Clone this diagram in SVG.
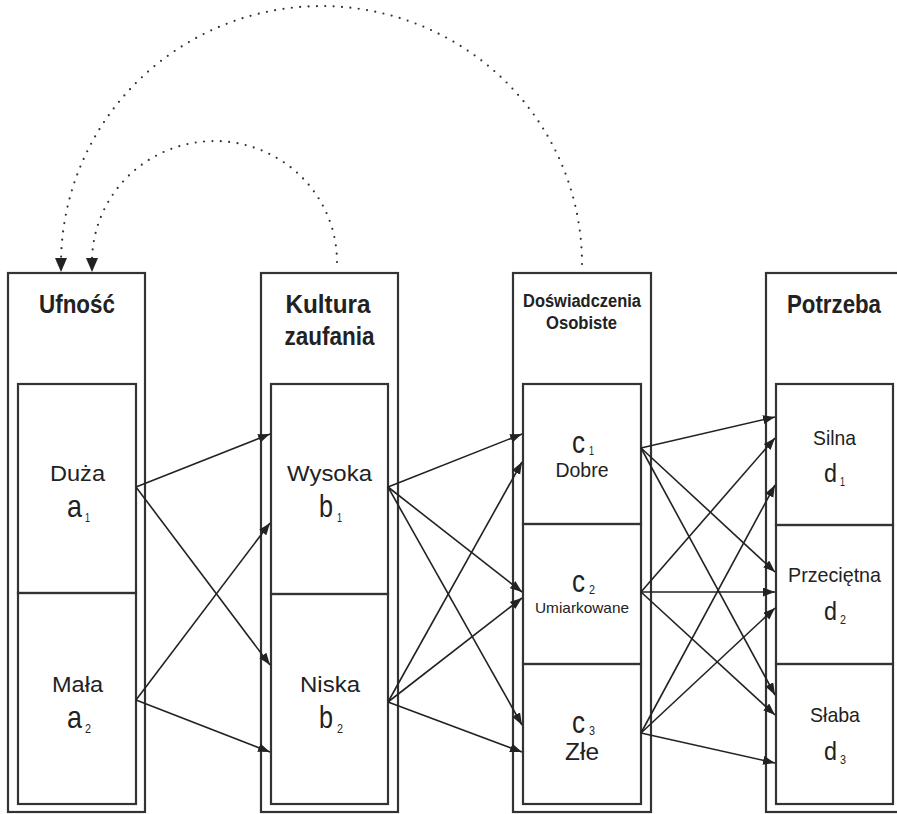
<svg xmlns="http://www.w3.org/2000/svg" width="897" height="814" viewBox="0 0 897 814">
<defs>
<marker id="ah" markerUnits="userSpaceOnUse" markerWidth="14" markerHeight="10" refX="12" refY="4.5" orient="auto">
<path d="M0,0 L12,4.5 L0,9 Z" fill="#222"/>
</marker>
<marker id="dh" markerUnits="userSpaceOnUse" markerWidth="15" markerHeight="13" refX="14" refY="6" orient="auto">
<path d="M0,0 L14,6 L0,12 Z" fill="#222"/>
</marker>
</defs>
<style>
.box{fill:none;stroke:#333;stroke-width:2.2}
.t{font-family:"Liberation Sans",Arial,sans-serif;fill:#222;text-anchor:middle}
.h{font-weight:bold;font-size:25px}
.hs{font-weight:bold;font-size:18px}
.l{font-size:22px}
.v{font-family:"Liberation Sans",Arial,sans-serif;fill:#222;font-size:32px}
.vd{font-family:"Liberation Sans",Arial,sans-serif;fill:#222;font-size:26px}
.s{font-family:"Liberation Sans",Arial,sans-serif;fill:#222;font-size:13px}
.ln{fill:none;stroke:#222;stroke-width:1.6;marker-end:url(#ah)}
.dot{fill:none;stroke:#333;stroke-width:2.2;stroke-linecap:round;stroke-dasharray:0 8.4;marker-end:url(#dh)}
</style>
<rect width="897" height="814" fill="#fff"/>

<g id="ufnosc">
<rect class="box" x="8" y="273" width="137" height="539"/>
<text class="t h" x="77" y="313" textLength="76" lengthAdjust="spacingAndGlyphs">Ufność</text>
<g id="a1">
<rect class="box" x="18" y="384" width="118" height="209"/>
<text class="t l" x="77.5" y="481" textLength="55" lengthAdjust="spacingAndGlyphs">Duża</text>
<text class="v" x="67" y="517" textLength="15" lengthAdjust="spacingAndGlyphs">a</text>
<text class="s" x="85" y="522" textLength="5" lengthAdjust="spacingAndGlyphs">1</text>
</g>
<g id="a2">
<rect class="box" x="18" y="593" width="118" height="211"/>
<text class="t l" x="77.5" y="692" textLength="51" lengthAdjust="spacingAndGlyphs">Mała</text>
<text class="v" x="67" y="728" textLength="15" lengthAdjust="spacingAndGlyphs">a</text>
<text class="s" x="85" y="733" textLength="6" lengthAdjust="spacingAndGlyphs">2</text>
</g>
</g>

<g id="kultura">
<rect class="box" x="261" y="273" width="137" height="539"/>
<text class="t h" x="328" y="313" textLength="85" lengthAdjust="spacingAndGlyphs">Kultura</text>
<text class="t h" x="329.5" y="345" textLength="90" lengthAdjust="spacingAndGlyphs">zaufania</text>
<g id="b1">
<rect class="box" x="271" y="384" width="117" height="210"/>
<text class="t l" x="329.5" y="481" textLength="85" lengthAdjust="spacingAndGlyphs">Wysoka</text>
<text class="v" x="319" y="517" textLength="14" lengthAdjust="spacingAndGlyphs">b</text>
<text class="s" x="337" y="522" textLength="5" lengthAdjust="spacingAndGlyphs">1</text>
</g>
<g id="b2">
<rect class="box" x="271" y="594" width="117" height="210"/>
<text class="t l" x="330" y="692" textLength="60" lengthAdjust="spacingAndGlyphs">Niska</text>
<text class="v" x="319" y="728" textLength="14" lengthAdjust="spacingAndGlyphs">b</text>
<text class="s" x="337" y="733" textLength="6" lengthAdjust="spacingAndGlyphs">2</text>
</g>
</g>

<g id="doswiadczenia">
<rect class="box" x="513" y="273" width="138" height="539"/>
<text class="t hs" x="582" y="307" textLength="118" lengthAdjust="spacingAndGlyphs">Doświadczenia</text>
<text class="t hs" x="581.5" y="329" textLength="71" lengthAdjust="spacingAndGlyphs">Osobiste</text>
<g id="c1">
<rect class="box" x="523" y="384" width="118" height="140"/>
<text class="v" x="572" y="453" textLength="13" lengthAdjust="spacingAndGlyphs">c</text>
<text class="s" x="589" y="455" textLength="5" lengthAdjust="spacingAndGlyphs">1</text>
<text class="t" style="font-size:21px" x="582" y="477" textLength="53" lengthAdjust="spacingAndGlyphs">Dobre</text>
</g>
<g id="c2">
<rect class="box" x="523" y="524" width="118" height="140"/>
<text class="v" x="572" y="592" textLength="13" lengthAdjust="spacingAndGlyphs">c</text>
<text class="s" x="589" y="594" textLength="6" lengthAdjust="spacingAndGlyphs">2</text>
<text class="t" style="font-size:15px" x="582" y="613" textLength="94" lengthAdjust="spacingAndGlyphs">Umiarkowane</text>
</g>
<g id="c3">
<rect class="box" x="523" y="664" width="118" height="140"/>
<text class="v" x="572" y="733" textLength="13" lengthAdjust="spacingAndGlyphs">c</text>
<text class="s" x="589" y="735" textLength="6" lengthAdjust="spacingAndGlyphs">3</text>
<text class="t" style="font-size:23px" x="582" y="760" textLength="34" lengthAdjust="spacingAndGlyphs">Złe</text>
</g>
</g>

<g id="potrzeba">
<rect class="box" x="766" y="273" width="137" height="539"/>
<text class="t h" x="834" y="313" textLength="94" lengthAdjust="spacingAndGlyphs">Potrzeba</text>
<g id="d1">
<rect class="box" x="776" y="384" width="117" height="141"/>
<text class="t" style="font-size:21px" x="834.5" y="445" textLength="43" lengthAdjust="spacingAndGlyphs">Silna</text>
<text class="vd" x="824" y="482" textLength="13" lengthAdjust="spacingAndGlyphs">d</text>
<text class="s" x="840" y="486" textLength="5" lengthAdjust="spacingAndGlyphs">1</text>
</g>
<g id="d2">
<rect class="box" x="776" y="525" width="117" height="139"/>
<text class="t" style="font-size:21px" x="834.5" y="582" textLength="93" lengthAdjust="spacingAndGlyphs">Przeciętna</text>
<text class="vd" x="824" y="620" textLength="13" lengthAdjust="spacingAndGlyphs">d</text>
<text class="s" x="840" y="624" textLength="6" lengthAdjust="spacingAndGlyphs">2</text>
</g>
<g id="d3">
<rect class="box" x="776" y="664" width="117" height="140"/>
<text class="t" style="font-size:21px" x="835" y="722" textLength="50" lengthAdjust="spacingAndGlyphs">Słaba</text>
<text class="vd" x="824" y="760" textLength="13" lengthAdjust="spacingAndGlyphs">d</text>
<text class="s" x="840" y="764" textLength="6" lengthAdjust="spacingAndGlyphs">3</text>
</g>
</g>

<g id="connectors">
<line class="ln" x1="136" y1="487" x2="270" y2="434"/>
<line class="ln" x1="136" y1="487" x2="270" y2="665"/>
<line class="ln" x1="136" y1="700" x2="270" y2="523"/>
<line class="ln" x1="136" y1="700" x2="270" y2="752"/>

<line class="ln" x1="388" y1="487" x2="522" y2="434"/>
<line class="ln" x1="388" y1="487" x2="522" y2="592"/>
<line class="ln" x1="388" y1="487" x2="522" y2="725"/>
<line class="ln" x1="388" y1="702" x2="522" y2="462"/>
<line class="ln" x1="388" y1="702" x2="522" y2="598"/>
<line class="ln" x1="388" y1="702" x2="522" y2="752"/>

<line class="ln" x1="641" y1="448" x2="775" y2="417"/>
<line class="ln" x1="641" y1="448" x2="775" y2="572"/>
<line class="ln" x1="641" y1="448" x2="775" y2="695"/>
<line class="ln" x1="641" y1="592" x2="775" y2="438"/>
<line class="ln" x1="641" y1="592" x2="775" y2="592"/>
<line class="ln" x1="641" y1="592" x2="775" y2="715"/>
<line class="ln" x1="641" y1="733" x2="775" y2="485"/>
<line class="ln" x1="641" y1="733" x2="775" y2="608"/>
<line class="ln" x1="641" y1="733" x2="775" y2="763"/>

<path class="dot" d="M 337 262 A 122.5 121 0 0 0 92 262 L 92 272"/>
<path class="dot" d="M 582 264 A 260.5 258 0 0 0 61 264 L 61 272"/>
</g>
</svg>
